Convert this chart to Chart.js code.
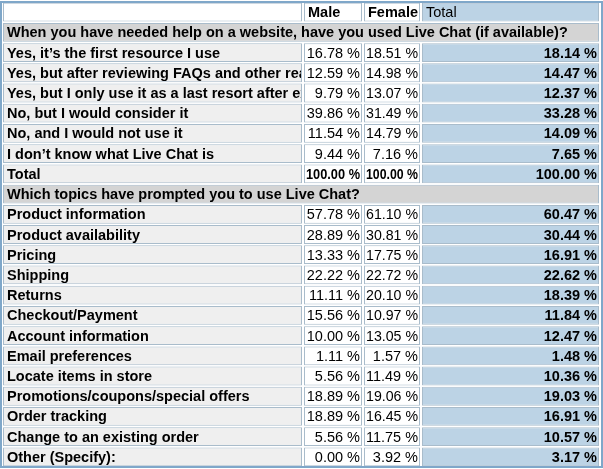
<!DOCTYPE html>
<html><head><meta charset="utf-8">
<script src="https://cdn.jsdelivr.net/npm/chart.js@4"></script>
<style>html,body{margin:0;padding:0;background:#fff}#wrap{width:603px;height:469px}</style>
</head><body><div id="wrap"><canvas id="c" width="603" height="469"></canvas></div>
<script>
const columns = ['Male', 'Female', 'Total'];
const section1 = 'When you have needed help on a website, have you used Live Chat (if available)?';
const labels1 = ['Yes, it\u2019s the first resource I use', 'Yes, but after reviewing FAQs and other readily available resources', 'Yes, but I only use it as a last resort after exhausting other options', 'No, but I would consider it', 'No, and I would not use it', 'I don\u2019t know what Live Chat is', 'Total'];
const male1 = [16.78, 12.59, 9.79, 39.86, 11.54, 9.44, 100];
const female1 = [18.51, 14.98, 13.07, 31.49, 14.79, 7.16, 100];
const total1 = [18.14, 14.47, 12.37, 33.28, 14.09, 7.65, 100];
const section2 = 'Which topics have prompted you to use Live Chat?';
const labels2 = ['Product information', 'Product availability', 'Pricing', 'Shipping', 'Returns', 'Checkout/Payment', 'Account information', 'Email preferences', 'Locate items in store', 'Promotions/coupons/special offers', 'Order tracking', 'Change to an existing order', 'Other (Specify):'];
const male2 = [57.78, 28.89, 13.33, 22.22, 11.11, 15.56, 10.00, 1.11, 5.56, 18.89, 18.89, 5.56, 0.00];
const female2 = [61.10, 30.81, 17.75, 22.72, 20.10, 10.97, 13.05, 1.57, 11.49, 19.06, 16.45, 11.75, 3.92];
const total2 = [60.47, 30.44, 16.91, 22.62, 18.39, 11.84, 12.47, 1.48, 10.36, 19.03, 16.91, 10.57, 3.17];

// table layout (px along x scale)
const edges = { label: [3, 302], male: [304, 362], female: [364, 420], total: [422, 599] };

const rows = [];
rows.push({ kind: 'head' });
rows.push({ kind: 'sec', text: section1 });
labels1.forEach((l, i) => rows.push({ kind: 'data', text: l, m: male1[i], f: female1[i], t: total1[i] }));
rows.push({ kind: 'sec', text: section2 });
labels2.forEach((l, i) => rows.push({ kind: 'data', text: l, m: male2[i], f: female2[i], t: total2[i] }));

const fmt = v => v.toFixed(2) + ' %';
const cat = rows.map((r, i) => 'r' + i);
const cell = (key, pred) => rows.map(r => pred(r) ? edges[key] : null);
const txt = (fn) => rows.map(fn);
const isTot = r => r.text === 'Total';

const datasets = [
  { data: rows.map(r => r.kind === 'sec' ? [3, 599] : null), backgroundColor: '#d4d4d4', texts: txt(r => r.kind === 'sec' ? r.text : ''), align: 'left', bold: true },
  { data: cell('label', r => r.kind !== 'sec'), backgroundColor: rows.map(r => r.kind === 'head' ? '#ffffff' : '#efefef'), texts: txt(r => r.kind === 'data' ? r.text : ''), align: 'left', bold: true },
  { data: cell('male', r => r.kind !== 'sec'), backgroundColor: '#ffffff', texts: txt(r => r.kind === 'head' ? columns[0] : r.kind === 'data' ? fmt(r.m) : ''), align: rows.map(r => r.kind === 'head' ? 'left' : 'right'), bold: rows.map(r => r.kind === 'head' || isTot(r)) },
  { data: cell('female', r => r.kind !== 'sec'), backgroundColor: '#ffffff', texts: txt(r => r.kind === 'head' ? columns[1] : r.kind === 'data' ? fmt(r.f) : ''), align: rows.map(r => r.kind === 'head' ? 'left' : 'right'), bold: rows.map(r => r.kind === 'head' || isTot(r)) },
  { data: cell('total', r => r.kind !== 'sec'), backgroundColor: '#bcd3e5', texts: txt(r => r.kind === 'head' ? columns[2] : r.kind === 'data' ? fmt(r.t) : ''), align: rows.map(r => r.kind === 'head' ? 'left' : 'right'), bold: rows.map(r => r.kind !== 'head') }
].map(d => Object.assign(d, { borderColor: '#a9bccb', borderWidth: 1, borderSkipped: false, barPercentage: 0.93, categoryPercentage: 1, grouped: false }));

const cellText = {
  id: 'cellText',
  afterDatasetsDraw(chart) {
    const ctx = chart.ctx;
    chart.data.datasets.forEach((ds, di) => {
      chart.getDatasetMeta(di).data.forEach((el, i) => {
        const t = ds.texts[i];
        if (!t || ds.data[i] == null) return;
        const x0 = Math.min(el.x, el.base), x1 = Math.max(el.x, el.base);
        const bold = Array.isArray(ds.bold) ? ds.bold[i] : ds.bold;
        const align = Array.isArray(ds.align) ? ds.align[i] : ds.align;
        ctx.save();
        ctx.beginPath(); ctx.rect(x0 + 1, el.y - el.height / 2, x1 - x0 - 2, el.height); ctx.clip();
        ctx.font = (bold ? 'bold ' : '') + '14.5px "Liberation Sans", Arial, sans-serif';
        ctx.fillStyle = '#000';
        ctx.textBaseline = 'middle';
        ctx.textAlign = align;
        let w = x1 - x0 - 4;
        const mw = ctx.measureText(t).width;
        const x = align === 'left' ? x0 + 4 : x1 - 2;
        if (align === 'right' && mw > w) ctx.fillText(t, x, el.y + 1, w);
        else ctx.fillText(t, x, el.y + 1);
        ctx.restore();
      });
    });
  }
};

const frame = {
  id: 'frame',
  afterDraw(chart) {
    const ctx = chart.ctx, a = chart.chartArea;
    ctx.save(); ctx.strokeStyle = '#7fa7c9'; ctx.lineWidth = 2;
    ctx.strokeRect(a.left + 1, a.top, a.right - a.left - 2, a.bottom - a.top);
    ctx.restore();
  }
};

new Chart(document.getElementById('c'), {
  type: 'bar',
  data: { labels: cat, datasets },
  options: {
    indexAxis: 'y', responsive: false, animation: false,
    layout: { padding: { top: 2, bottom: 2 } },
    plugins: { legend: { display: false }, tooltip: { enabled: false } },
    scales: {
      x: { type: 'linear', min: 0, max: 603, display: false },
      y: { display: false, offset: true }
    }
  },
  plugins: [cellText, frame]
});
</script></body></html>
